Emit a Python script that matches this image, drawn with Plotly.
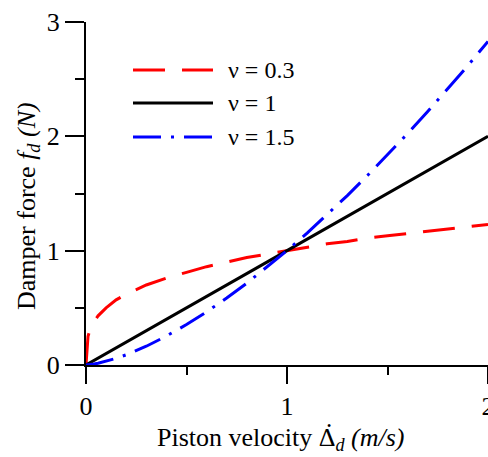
import plotly.graph_objects as go

velocity = [0, 0.005, 0.01, 0.02, 0.04, 0.06, 0.1, 0.15, 0.2, 0.3, 0.4, 0.5, 0.6, 0.7,
            0.8, 0.9, 1.0, 1.1, 1.2, 1.3, 1.4, 1.5, 1.6, 1.7, 1.8, 1.9, 2.0]
force_nu03 = [0, 0.20, 0.25, 0.31, 0.38, 0.43, 0.50, 0.57, 0.62, 0.70, 0.76, 0.81, 0.86, 0.90,
              0.94, 0.97, 1.0, 1.03, 1.06, 1.08, 1.11, 1.13, 1.15, 1.17, 1.19, 1.21, 1.23]
force_nu1 = [0, 0.005, 0.01, 0.02, 0.04, 0.06, 0.1, 0.15, 0.2, 0.3, 0.4, 0.5, 0.6, 0.7,
             0.8, 0.9, 1.0, 1.1, 1.2, 1.3, 1.4, 1.5, 1.6, 1.7, 1.8, 1.9, 2.0]
force_nu15 = [0, 0.0004, 0.001, 0.003, 0.008, 0.015, 0.032, 0.058, 0.089, 0.164, 0.253, 0.354,
              0.465, 0.586, 0.716, 0.854, 1.0, 1.154, 1.315, 1.482, 1.657, 1.837, 2.024, 2.217,
              2.415, 2.619, 2.83]
series_names = ["ν = 0.3", "ν = 1", "ν = 1.5"]
x_ticks = [0, 1, 2]
y_ticks = [0, 1, 2, 3]
x_title = "Piston velocity Δ<sub><i>d</i></sub> <i>(m/s)</i>"
y_title = "Damper force <i>f<sub>d</sub> (N)</i>"

FONT = "Liberation Serif"
colors = ["#FF0000", "#000000", "#0000FF"]
dashes = ["32px,17px", "solid", "28px,10px,3px,10px"]
series = [force_nu03, force_nu1, force_nu15]

fig = go.Figure()
for name, ys, c, d in zip(series_names, series, colors, dashes):
    fig.add_trace(go.Scatter(x=velocity, y=ys, mode="lines", name=name,
                             line=dict(color=c, width=3, dash=d), showlegend=False))

L, T, W, H, B = 86, 22, 402, 343, 92

def px2paper(px, py):
    return (px - L) / W, (T + H - py) / H

# legend drawn by hand (long sample lines as in the reference)
rows_y = [70, 103, 137]
for name, c, d, ry in zip(series_names, colors, dashes, rows_y):
    x0, y0 = px2paper(133, ry)
    x1, _ = px2paper(213, ry)
    fig.add_shape(type="line", xref="paper", yref="paper", x0=x0, x1=x1, y0=y0, y1=y0,
                  line=dict(color=c, width=3, dash=d))
    tx, _ = px2paper(226, ry)
    fig.add_annotation(xref="paper", yref="paper", x=tx, y=y0, text=name, showarrow=False,
                       xanchor="left", yanchor="middle",
                       font=dict(family=FONT, size=24, color="black"))

# axis titles
ax, ay = px2paper(281, 439)
fig.add_annotation(xref="paper", yref="paper", x=ax, y=ay, text=x_title, showarrow=False,
                   xanchor="center", yanchor="middle",
                   font=dict(family=FONT, size=26, color="black"))
dx, dy = px2paper(329, 426)
fig.add_annotation(xref="paper", yref="paper", x=dx, y=dy, text="•", showarrow=False,
                   xanchor="center", yanchor="middle",
                   font=dict(family=FONT, size=12, color="black"))
yx, yy = px2paper(28, 206)
fig.add_annotation(xref="paper", yref="paper", x=yx, y=yy, text=y_title, showarrow=False,
                   textangle=-90, xanchor="center", yanchor="middle",
                   font=dict(family=FONT, size=26, color="black"))

axis_common = dict(showline=True, linecolor="black", linewidth=2, ticks="outside",
                   tickcolor="black", tickwidth=2, showgrid=False, zeroline=False,
                   ticklabeloverflow="allow",
                   tickfont=dict(family=FONT, size=26, color="black"))

fig.update_layout(
    width=488, height=457,
    margin=dict(l=L, r=0, t=T, b=B, autoexpand=False),
    paper_bgcolor="white", plot_bgcolor="white",
    xaxis=dict(range=[0, 2], tickvals=x_ticks, ticklen=17,
               minor=dict(dtick=0.5, ticklen=8, ticks="outside", tickcolor="black", tickwidth=2),
               **axis_common),
    yaxis=dict(range=[0, 3], tickvals=y_ticks, ticklen=19,
               minor=dict(dtick=0.5, ticklen=9, ticks="outside", tickcolor="black", tickwidth=2),
               **axis_common),
)

fig.write_html("out.html", config={"displayModeBar": False},
               post_script="document.body.style.margin='0';document.body.style.overflow='hidden';")
